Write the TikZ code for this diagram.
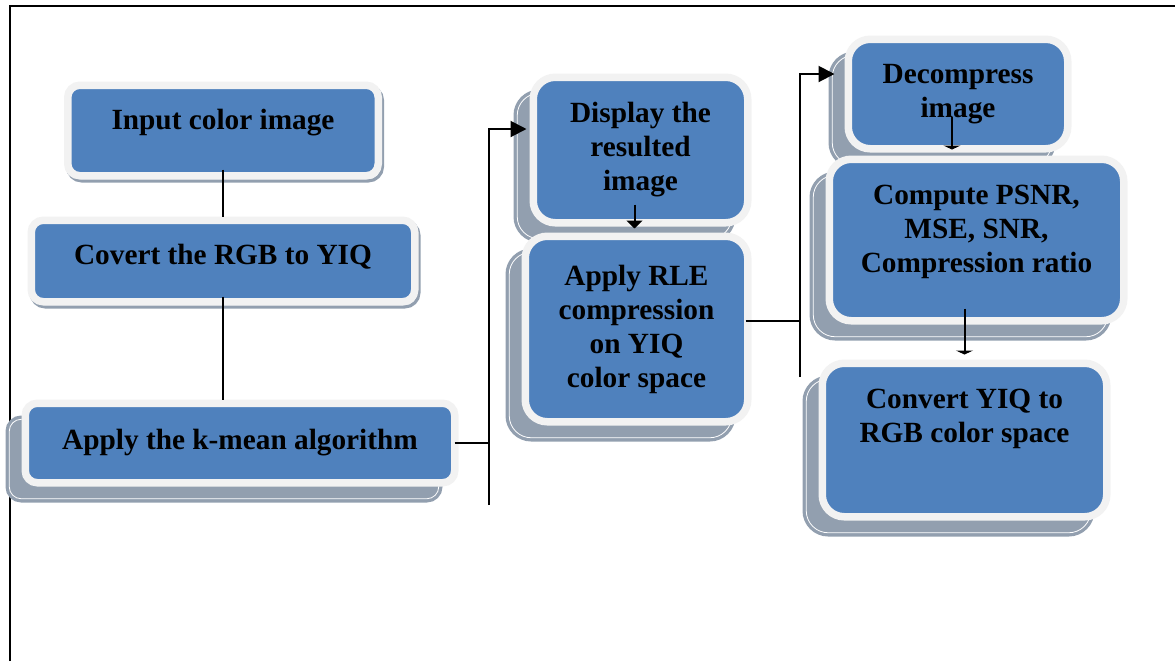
\documentclass[tikz,border=0pt]{standalone}
\usepackage{fontspec}
\setmainfont{Liberation Serif}
\usetikzlibrary{positioning,arrows.meta,calc}
\definecolor{boxblue}{HTML}{4F81BD}
\definecolor{boxrim}{HTML}{F2F2F2}
\definecolor{boxshade}{HTML}{929FAF}
\tikzset{
    block/.style={draw=boxrim, fill=boxblue, line width=3.75pt, rounded corners=6pt,
        font=\fontsize{14.65}{17}\selectfont\bfseries, align=center, inner sep=0pt},
    tall/.style={rounded corners=11pt},
    boxshadow/.style 2 args={
        preaction={draw=boxshade, fill=boxshade, line width=3.75pt, transform canvas={shift={(#1,#2)}}},
        preaction={draw=white, line width=0.4pt, transform canvas={shift={(#1,#2)}}}},
    lowshadow/.style={boxshadow={1pt}{-1.5pt}},
    backshadow/.style={boxshadow={-8pt}{-8pt}},
    link/.style={line width=1pt},
    arrowline/.style={link, -{Triangle[length=8pt,width=8pt]}},
    wedgeline/.style={link, -{Triangle[length=4pt,width=8pt]}},
    barline/.style={link, -{Triangle[length=2pt,width=8.5pt]}}
}
\begin{document}
\begin{tikzpicture}[x=0.5pt,y=-0.5pt]
    \useasboundingbox (0,0) rectangle (1175,661);
    %Frame
    \draw[line width=1pt] (9.5,661) -- (9.5,6) -- (1175,6);
    %Left column
    \node[block,lowshadow,minimum width=155.25pt,minimum height=45.25pt,text depth=11.4pt] (input) at (223,130.5) {Input color image};
    \node[block,lowshadow,minimum width=191.75pt,minimum height=40.75pt,text depth=6.4pt] (covert) at (223,261) {Covert the RGB to YIQ};
    \node[block,backshadow,minimum width=214.75pt,minimum height=39.75pt] (kmean) at (240,443) {Apply the k-mean algorithm};
    %Middle column
    \node[block,tall,backshadow,minimum width=107.25pt,minimum height=72.75pt] (display) at (640.5,150) {Display the\\resulted\\image};
    \node[block,tall,backshadow,minimum width=111.25pt,minimum height=92.75pt] (rle) at (636.5,329) {Apply RLE\\compression\\on YIQ\\color space};
    %Right column
    \node[block,tall,backshadow,minimum width=109.75pt,minimum height=54.75pt] (decompress) at (958,94) {Decompress\\image};
    \node[block,tall,backshadow,minimum width=147.25pt,minimum height=80.75pt,text depth=11.4pt] (compute) at (976.5,240) {Compute PSNR,\\MSE, SNR,\\Compression ratio};
    \node[block,tall,backshadow,minimum width=142.25pt,minimum height=76.75pt,text depth=24.4pt] (convert) at (964.5,440) {Convert YIQ to\\RGB color space};
    %Links
    \draw[link] ([yshift=5pt]input.south) -- (covert.north);
    \draw[link] ([yshift=4.5pt]covert.south) -- (covert.south |- kmean.north);
    \coordinate (busA) at (489,505);
    \draw[link] ([xshift=-2pt]kmean.east) -- (kmean.east -| busA);
    \draw[arrowline,shorten >=1.5pt] (busA) |- ($(display.west)+(0,10.5pt)$);
    \draw[wedgeline] ($(display.south)+(-3pt,11pt)$) -- ($(rle.north)+(-1pt,2pt)$);
    \coordinate (busB) at (800,377);
    \draw[link] ($(rle.east)+(-3pt,4pt)$) -- ($(rle.east -| busB)+(0,4pt)$);
    \draw[arrowline,shorten >=5pt] (busB) |- ($(decompress.west)+(0,10pt)$);
    \draw[barline] ($(decompress.south)+(-3pt,18pt)$) -- ($(decompress.south |- compute.north)+(-3pt,3pt)$);
    \draw[barline] ($(convert.north |- compute.south)+(0,8pt)$) -- ($(convert.north)+(0,2.5pt)$);
\end{tikzpicture}
\end{document}
